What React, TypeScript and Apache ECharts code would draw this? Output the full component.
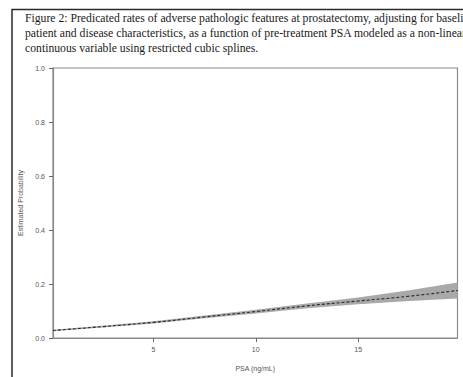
import React, { useEffect, useRef } from "react";
import * as echarts from "echarts";

const titleLines = [
  "Figure 2: Predicated rates of adverse pathologic features at prostatectomy, adjusting for baseline",
  "patient and disease characteristics, as a function of pre-treatment PSA modeled as a non-linear",
  "continuous variable using restricted cubic splines.",
];
const psa = [0.1, 2.5, 5, 7.5, 10, 12.5, 15, 17.5, 19.85];
const estimate = [0.028, 0.042, 0.058, 0.078, 0.098, 0.119, 0.137, 0.155, 0.176];
const lower = [0.025, 0.039, 0.054, 0.073, 0.091, 0.11, 0.125, 0.137, 0.146];
const upper = [0.031, 0.045, 0.062, 0.083, 0.105, 0.128, 0.15, 0.177, 0.206];
const xTicks = [5, 10, 15];
const yTicks = [0, 0.2, 0.4, 0.6, 0.8, 1.0];

export default function App() {
  const ref = useRef<HTMLDivElement>(null);
  useEffect(() => {
    if (!ref.current) return;
    const chart = echarts.init(ref.current, null, { renderer: "svg" });
    const axisGray = "#8a8a8a";
    const labelGray = "#555";
    const sans = "Liberation Sans, Arial, sans-serif";
    chart.setOption({
      animation: false,
      backgroundColor: "#fff",
      graphic: [
        {
          type: "rect",
          shape: { x: 12, y: 9.5, width: 520, height: 420 },
          style: { fill: "none", stroke: "#2a2a2a", lineWidth: 1.5 },
          silent: true,
        },
        ...titleLines.map((t, i) => ({
          type: "text",
          x: 25,
          y: 12 + i * 15,
          scaleX: 0.975,
          style: {
            text: t,
            font: "12px 'Liberation Serif', 'Times New Roman', serif",
            fill: "#1a1a1a",
          },
        })),
      ],
      grid: {
        left: 53,
        top: 68,
        right: 5.5,
        bottom: 32.3,
        show: true,
        borderColor: axisGray,
        borderWidth: 1.2,
        backgroundColor: "transparent",
      },
      xAxis: {
        type: "value",
        min: 0.1,
        max: 19.85,
        name: "PSA (ng/mL)",
        nameLocation: "middle",
        nameGap: 27,
        nameTextStyle: { fontFamily: sans, fontSize: 7, color: labelGray },
        axisLine: { show: true, lineStyle: { color: axisGray, width: 1.2 } },
        axisTick: { show: true, length: 4, customValues: xTicks, lineStyle: { color: "#666", width: 1 } },
        axisLabel: {
          customValues: xTicks,
          margin: 8,
          fontFamily: sans,
          fontSize: 7,
          color: labelGray,
        },
        splitLine: { show: false },
      },
      yAxis: {
        type: "value",
        min: 0,
        max: 1,
        name: "Estimated Probability",
        nameLocation: "middle",
        nameGap: 25,
        nameRotate: 90,
        nameTextStyle: { fontFamily: sans, fontSize: 7, color: labelGray },
        axisLine: { show: true, lineStyle: { color: axisGray, width: 1.2 } },
        axisTick: { show: true, length: 4, customValues: yTicks, lineStyle: { color: "#666", width: 1 } },
        axisLabel: {
          customValues: yTicks,
          margin: 8,
          formatter: (v: number) => v.toFixed(1),
          fontFamily: sans,
          fontSize: 7,
          color: labelGray,
        },
        splitLine: { show: false },
      },
      series: [
        {
          type: "custom",
          silent: true,
          data: [[psa[0], estimate[0]]],
          renderItem: (params: any, api: any) => {
            const pts: number[][] = [];
            for (let i = 0; i < psa.length; i++) pts.push(api.coord([psa[i], upper[i]]));
            for (let i = psa.length - 1; i >= 0; i--) pts.push(api.coord([psa[i], lower[i]]));
            return {
              type: "polygon",
              shape: { points: pts },
              style: { fill: "#a9a9a9", stroke: "none" },
            };
          },
        },
        {
          type: "line",
          data: psa.map((x, i) => [x, estimate[i]]),
          symbol: "none",
          smooth: true,
          lineStyle: { color: "#2a2a2a", width: 1.1, type: [3, 2] },
        },
      ],
    });
    return () => chart.dispose();
  }, []);
  return (
    <div
      ref={ref}
      style={{ position: "fixed", left: 0, top: 0, width: 463, height: 377, overflow: "hidden" }}
    />
  );
}
